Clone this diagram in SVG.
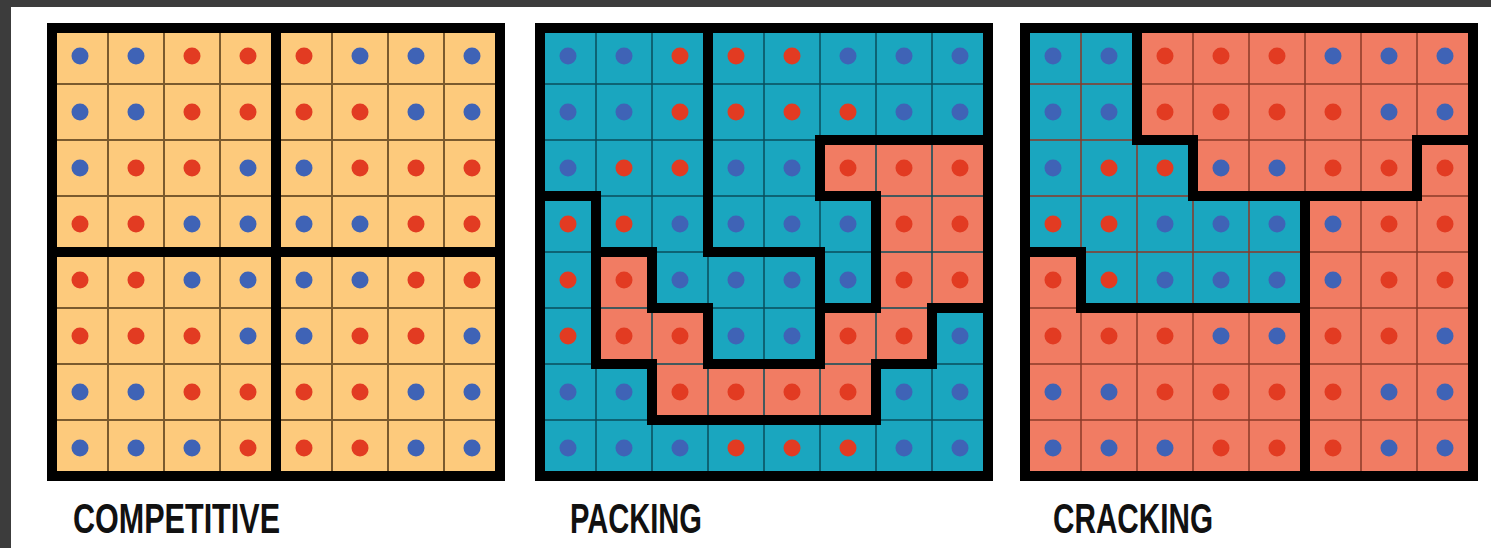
<svg xmlns="http://www.w3.org/2000/svg" xmlns:xlink="http://www.w3.org/1999/xlink" width="1491" height="548" viewBox="0 0 1491 548">
<style>
.r{fill:#E23B22}
.b{fill:#3F63B6}
.thinY{stroke:#7A5A2E;stroke-width:2;fill:none}
.thinT{stroke:#0A4E5C;stroke-width:1.5;fill:none}
.thinS{stroke:#8A3A28;stroke-width:1.5;fill:none}
.thick{stroke:#000;stroke-width:10;fill:none;stroke-linejoin:miter;stroke-linecap:square}
.yel{fill:#FDCA7C}
.teal{fill:#1AA6BF}
.sal{fill:#F17C63}
.lbl{font-family:"Liberation Sans Narrow","Liberation Sans",Arial,sans-serif;font-weight:bold;font-size:43px;fill:#111}
</style>
<defs>
<g id="gridlines">
<path d="M56 0V448M112 0V448M168 0V448M224 0V448M280 0V448M336 0V448M392 0V448M0 56H448M0 112H448M0 168H448M0 224H448M0 280H448M0 336H448M0 392H448"/>
</g>
<g id="dots">
<circle class="b" cx="28" cy="28" r="8.5"/><circle class="b" cx="84" cy="28" r="8.5"/><circle class="r" cx="140" cy="28" r="8.5"/><circle class="r" cx="196" cy="28" r="8.5"/><circle class="r" cx="252" cy="28" r="8.5"/><circle class="b" cx="308" cy="28" r="8.5"/><circle class="b" cx="364" cy="28" r="8.5"/><circle class="b" cx="420" cy="28" r="8.5"/>
<circle class="b" cx="28" cy="84" r="8.5"/><circle class="b" cx="84" cy="84" r="8.5"/><circle class="r" cx="140" cy="84" r="8.5"/><circle class="r" cx="196" cy="84" r="8.5"/><circle class="r" cx="252" cy="84" r="8.5"/><circle class="r" cx="308" cy="84" r="8.5"/><circle class="b" cx="364" cy="84" r="8.5"/><circle class="b" cx="420" cy="84" r="8.5"/>
<circle class="b" cx="28" cy="140" r="8.5"/><circle class="r" cx="84" cy="140" r="8.5"/><circle class="r" cx="140" cy="140" r="8.5"/><circle class="b" cx="196" cy="140" r="8.5"/><circle class="b" cx="252" cy="140" r="8.5"/><circle class="r" cx="308" cy="140" r="8.5"/><circle class="r" cx="364" cy="140" r="8.5"/><circle class="r" cx="420" cy="140" r="8.5"/>
<circle class="r" cx="28" cy="196" r="8.5"/><circle class="r" cx="84" cy="196" r="8.5"/><circle class="b" cx="140" cy="196" r="8.5"/><circle class="b" cx="196" cy="196" r="8.5"/><circle class="b" cx="252" cy="196" r="8.5"/><circle class="b" cx="308" cy="196" r="8.5"/><circle class="r" cx="364" cy="196" r="8.5"/><circle class="r" cx="420" cy="196" r="8.5"/>
<circle class="r" cx="28" cy="252" r="8.5"/><circle class="r" cx="84" cy="252" r="8.5"/><circle class="b" cx="140" cy="252" r="8.5"/><circle class="b" cx="196" cy="252" r="8.5"/><circle class="b" cx="252" cy="252" r="8.5"/><circle class="b" cx="308" cy="252" r="8.5"/><circle class="r" cx="364" cy="252" r="8.5"/><circle class="r" cx="420" cy="252" r="8.5"/>
<circle class="r" cx="28" cy="308" r="8.5"/><circle class="r" cx="84" cy="308" r="8.5"/><circle class="r" cx="140" cy="308" r="8.5"/><circle class="b" cx="196" cy="308" r="8.5"/><circle class="b" cx="252" cy="308" r="8.5"/><circle class="r" cx="308" cy="308" r="8.5"/><circle class="r" cx="364" cy="308" r="8.5"/><circle class="b" cx="420" cy="308" r="8.5"/>
<circle class="b" cx="28" cy="364" r="8.5"/><circle class="b" cx="84" cy="364" r="8.5"/><circle class="r" cx="140" cy="364" r="8.5"/><circle class="r" cx="196" cy="364" r="8.5"/><circle class="r" cx="252" cy="364" r="8.5"/><circle class="r" cx="308" cy="364" r="8.5"/><circle class="b" cx="364" cy="364" r="8.5"/><circle class="b" cx="420" cy="364" r="8.5"/>
<circle class="b" cx="28" cy="420" r="8.5"/><circle class="b" cx="84" cy="420" r="8.5"/><circle class="b" cx="140" cy="420" r="8.5"/><circle class="r" cx="196" cy="420" r="8.5"/><circle class="r" cx="252" cy="420" r="8.5"/><circle class="r" cx="308" cy="420" r="8.5"/><circle class="b" cx="364" cy="420" r="8.5"/><circle class="b" cx="420" cy="420" r="8.5"/>
</g>
</defs>
<rect width="1491" height="548" fill="#FFFFFF"/>
<rect x="0" y="0" width="1491" height="7" fill="#3C3C3C"/>
<rect x="0" y="0" width="11" height="548" fill="#3C3C3C"/>

<g id="competitive">
<rect class="yel" x="52" y="28" width="448" height="448"/>
<use xlink:href="#gridlines" href="#gridlines" class="thinY" x="52" y="28"/>
<use xlink:href="#dots" href="#dots" x="52" y="28"/>
<path class="thick" d="M276 28V476M52 252H500"/>
<rect class="thick" x="52" y="28" width="448" height="448"/>
<text class="lbl" x="73" y="533" textLength="207" lengthAdjust="spacingAndGlyphs">COMPETITIVE</text>
</g>

<g id="packing">
<rect class="teal" x="540" y="28" width="448" height="448"/>
<rect class="sal" x="820" y="140" width="168" height="56"/>
<rect class="sal" x="876" y="196" width="112" height="112"/>
<rect class="sal" x="596" y="252" width="56" height="112"/>
<rect class="sal" x="652" y="308" width="56" height="56"/>
<rect class="sal" x="820" y="308" width="112" height="56"/>
<rect class="sal" x="652" y="364" width="224" height="56"/>
<use xlink:href="#gridlines" href="#gridlines" class="thinT" x="540" y="28"/>
<use xlink:href="#dots" href="#dots" x="540" y="28"/>
<path class="thick" d="M708 28V252H820V364H708V308H652V252H596"/>
<path class="thick" d="M540 196H596V364H652V420H876V364H932V308H988"/>
<path class="thick" d="M988 140H820V196H876V308H820"/>
<rect class="thick" x="540" y="28" width="448" height="448"/>
<text class="lbl" x="570" y="533" textLength="132" lengthAdjust="spacingAndGlyphs">PACKING</text>
</g>

<g id="cracking">
<rect class="sal" x="1025" y="28" width="448" height="448"/>
<rect class="teal" x="1025" y="28" width="112" height="112"/>
<rect class="teal" x="1025" y="140" width="168" height="56"/>
<rect class="teal" x="1025" y="196" width="280" height="56"/>
<rect class="teal" x="1081" y="252" width="224" height="56"/>
<use xlink:href="#gridlines" href="#gridlines" class="thinS" x="1025" y="28"/>
<use xlink:href="#dots" href="#dots" x="1025" y="28"/>
<path class="thick" d="M1137 28V140H1193V196H1417V140H1473"/>
<path class="thick" d="M1305 196V476"/>
<path class="thick" d="M1025 252H1081V308H1305"/>
<rect class="thick" x="1025" y="28" width="448" height="448"/>
<text class="lbl" x="1053" y="533" textLength="160" lengthAdjust="spacingAndGlyphs">CRACKING</text>
</g>
</svg>
